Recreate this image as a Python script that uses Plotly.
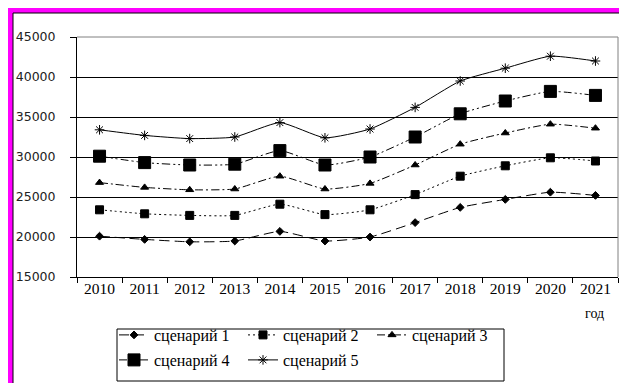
import plotly.graph_objects as go

years = ["2010", "2011", "2012", "2013", "2014", "2015", "2016", "2017", "2018", "2019", "2020", "2021"]
names = ["сценарий 1", "сценарий 2", "сценарий 3", "сценарий 4", "сценарий 5"]
s1 = [20100, 19700, 19400, 19500, 20700, 19500, 20000, 21800, 23700, 24700, 25600, 25200]
s2 = [23400, 22900, 22700, 22700, 24100, 22800, 23400, 25300, 27600, 28900, 29900, 29500]
s3 = [26800, 26200, 25900, 26000, 27600, 26000, 26700, 29000, 31600, 33000, 34100, 33600]
s4 = [30100, 29300, 29000, 29100, 30800, 29000, 30000, 32500, 35400, 37000, 38200, 37700]
s5 = [33400, 32700, 32300, 32500, 34300, 32400, 33500, 36200, 39500, 41100, 42600, 42000]
y_ticks = [15000, 20000, 25000, 30000, 35000, 40000, 45000]

series = [s1, s2, s3, s4, s5]
styles = [
    dict(symbol="diamond", size=6, dash="10px,5px", legend="legend"),
    dict(symbol="square", size=8, dash="2px,3px", legend="legend"),
    dict(symbol="triangle-up", size=7, dash="8px,3px,2px,3px", legend="legend"),
    dict(symbol="square", size=12, dash="8px,3px,2px,3px,2px,3px", legend="legend2"),
    dict(symbol="asterisk-open", size=8, dash="solid", legend="legend2"),
]

fig = go.Figure()
for name, vals, st in zip(names, series, styles):
    fig.add_trace(go.Scatter(
        x=years, y=vals, name=name, mode="lines+markers",
        line=dict(color="black", width=1, dash=st["dash"], shape="spline", smoothing=0.5),
        marker=dict(symbol=st["symbol"], size=st["size"], color="black",
                    line=dict(color="black", width=1)),
        legend=st["legend"],
    ))

L, R, T, B = 69, 17, 29, 114
W, H = 627, 383
pw, ph = W - L - R, H - T - B

def px(x):
    return (x - L) / pw

def py(y):
    return (H - B - y) / ph

legend_font = dict(family="Liberation Serif", size=16, color="black")
fig.update_layout(
    width=W, height=H,
    margin=dict(l=L, r=R, t=T, b=B, autoexpand=False),
    paper_bgcolor="#FF00FF",
    plot_bgcolor="white",
    showlegend=True,
    legend=dict(orientation="h", x=px(106), xanchor="left", y=py(327), yanchor="middle",
                font=legend_font, entrywidth=84, bgcolor="rgba(0,0,0,0)", borderwidth=0,
                itemwidth=30),
    legend2=dict(orientation="h", x=px(106), xanchor="left", y=py(352), yanchor="middle",
                 font=legend_font, entrywidth=84, bgcolor="rgba(0,0,0,0)", borderwidth=0,
                 itemwidth=30),
    xaxis=dict(
        type="category", range=[-0.5, 11.5], showgrid=False,
        showline=True, linecolor="black", linewidth=1,
        ticks="outside", tickson="boundaries", ticklen=5, tickcolor="black",
        tickfont=dict(family="Liberation Serif", size=15.5, color="black"),
        ticklabelstandoff=-3,
    ),
    yaxis=dict(
        range=[15000, 45000], tickvals=y_ticks, ticktext=[str(v) for v in y_ticks],
        showgrid=True, gridcolor="black", gridwidth=1,
        showline=True, linecolor="black", linewidth=1,
        ticks="outside", ticklen=6, tickcolor="black",
        tickfont=dict(family="DejaVu Sans", size=12.5, color="#222222"),
        ticklabelstandoff=12,
        zeroline=False,
    ),
    shapes=[
        dict(type="rect", xref="paper", yref="paper", x0=px(5), x1=px(622), y0=py(377), y1=py(5),
             fillcolor="white", line=dict(color="black", width=1), layer="below"),
        dict(type="line", xref="paper", yref="paper", x0=0, x1=1, y0=1, y1=1,
             line=dict(color="#808080", width=1)),
        dict(type="line", xref="paper", yref="paper", x0=1, x1=1, y0=0, y1=1,
             line=dict(color="#808080", width=1)),
        dict(type="rect", xref="paper", yref="paper", x0=px(109), x1=px(496), y0=py(373), y1=py(321),
             fillcolor="rgba(0,0,0,0)", line=dict(color="black", width=1)),
    ],
    annotations=[
        dict(text="год", xref="paper", yref="paper", x=px(598), y=py(315), showarrow=False,
             font=dict(family="Liberation Serif", size=14, color="black")),
    ],
)

fig.write_html("out.html")
